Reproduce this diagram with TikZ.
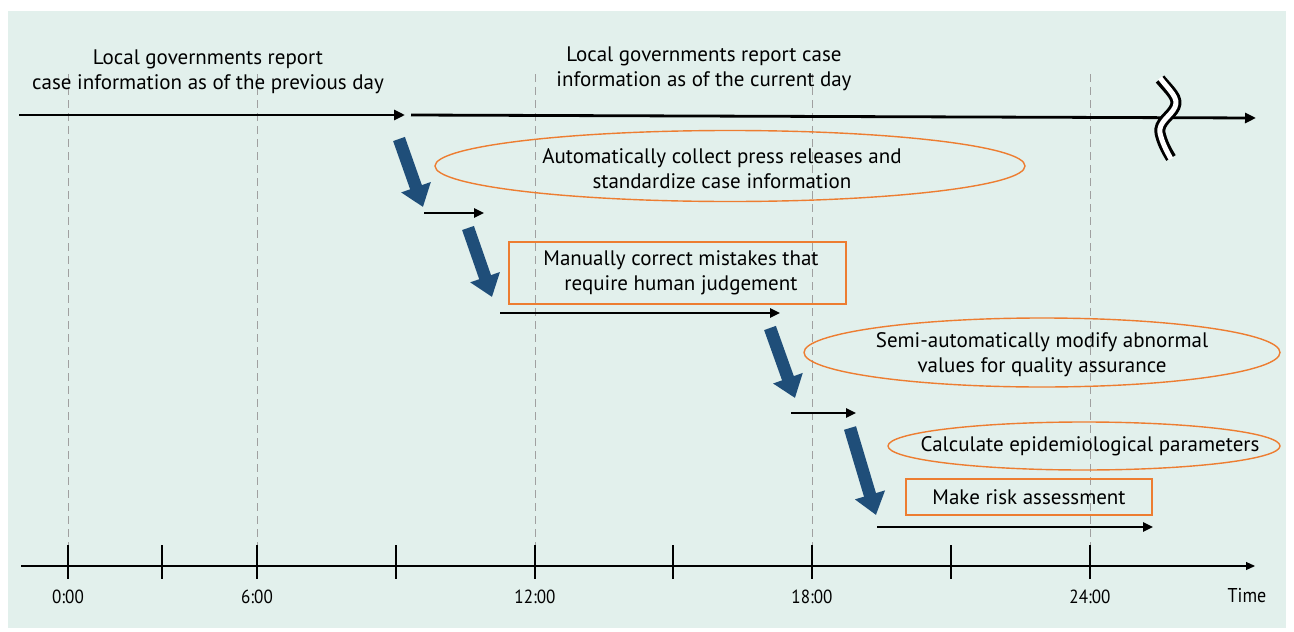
\documentclass[tikz,border=0pt]{standalone}
\usepackage{fontspec}
\usepackage{graphicx}
\setmainfont{PT Sans}
\usetikzlibrary{arrows.meta,shapes.geometric}
\definecolor{bgmint}{RGB}{226,240,236}
\definecolor{fatblue}{RGB}{31,78,121}
\definecolor{orng}{RGB}{237,125,49}
\definecolor{dashgray}{RGB}{160,160,160}
\newcommand{\narrowtxt}[1]{\scalebox{0.9}[1]{#1}}
\tikzset{
  txt/.style={font=\fontsize{21}{25}\selectfont, align=center, inner sep=0pt},
  axlbl/.style={font=\fontsize{19}{20}\selectfont, inner sep=0pt},
  fatarrow/.style={draw=fatblue, line width=12.5pt, -{Triangle[width=30pt,length=21pt]}, fatblue},
  steparrow/.style={draw=black, line width=2.4pt, -{Triangle[width=9pt,length=10pt]}},
  toparrow/.style={draw=black, line width=2.8pt, -{Triangle[width=10pt,length=11pt]}},
  guide/.style={draw=dashgray, line width=1pt, dash pattern=on 8pt off 5pt},
  oval/.style={draw=orng, line width=1.4pt, ellipse, inner sep=0pt},
  obox/.style={draw=orng, line width=1.4pt, rectangle, inner sep=0pt},
}
\begin{document}
\begin{tikzpicture}[x=1pt,y=-1pt]
\useasboundingbox (0,0) rectangle (1294,632);
\fill[white] (0,0) rectangle (1294,632);
\fill[bgmint] (8,11) rectangle (1286,628);
% dashed guides
\foreach \x in {68,257,535,812,1090}
  \draw[guide] (\x,74) -- (\x,545);
% time axis
\coordinate (ax0) at (21,566);
\coordinate (ax1) at (1255,566);
\draw[line width=1.1pt, -{Triangle[width=8pt,length=9pt]}] (ax0) -- (ax1);
\foreach \x in {68,162,257,396,535,673,812,951,1090}
  \draw[line width=1.1pt] (\x,545) -- (\x,579);
\node[axlbl] (t0) at (68,597) {\narrowtxt{0:00}};
\node[axlbl] (t6) at (257,597) {\narrowtxt{6:00}};
\node[axlbl] (t12) at (535,597) {\narrowtxt{12:00}};
\node[axlbl] (t18) at (812,597) {\narrowtxt{18:00}};
\node[axlbl] (t24) at (1090,597) {\narrowtxt{24:00}};
\node[font=\fontsize{20}{22}\selectfont, inner sep=0pt] (tm) at (1247,596) {\narrowtxt{Time}};
% top texts
\node[txt] (prev) at (208,72) {Local governments report\\case information as of the previous day};
\node[txt] (curr) at (704,69) {Local governments report case\\information as of the current day};
% top arrows
\coordinate (a0) at (19,115);
\coordinate (a1) at (405,115);
\coordinate (b0) at (411,115);
\coordinate (b1) at (1256,118);
\draw[toparrow] (a0) -- (a1);
\draw[toparrow] (b0) -- (b1);
% break mark
\draw[black, line width=11pt] (1160,79) .. controls (1170,91) and (1179,98) .. (1175,107) .. controls (1171,116) and (1158,122) .. (1160,133) .. controls (1162,142) and (1166,150) .. (1171,158);
\draw[white, line width=5pt] (1160,78) .. controls (1170,91) and (1179,98) .. (1175,107) .. controls (1171,116) and (1158,122) .. (1160,133) .. controls (1162,142) and (1166,150) .. (1171,159);
% process shapes
\node[oval, minimum width=590pt, minimum height=71pt] (s1) at (730,166) {};
\node[txt] (s1t) at (722,169) {Automatically collect press releases and\\standardize case information};
\node[obox, minimum width=337pt, minimum height=62pt] (s2) at (677.5,273) {};
\node[txt] (s2t) at (681,273) {Manually correct mistakes that\\require human judgement};
\node[oval, minimum width=476pt, minimum height=69pt] (s3) at (1042,352.5) {};
\node[txt] (s3t) at (1042,355) {Semi-automatically modify abnormal\\values for quality assurance};
\node[oval, minimum width=392pt, minimum height=48pt] (s4) at (1084,446) {};
\node[txt] (s4t) at (1090,446) {Calculate epidemiological parameters};
\node[obox, minimum width=246pt, minimum height=36pt] (s5) at (1029,497) {};
\node[txt] (s5t) at (1029,497) {Make risk assessment};
% fat blue arrows
\coordinate (f1a) at (399,139);
\coordinate (f1b) at (423,207);
\coordinate (f2a) at (468,228);
\coordinate (f2b) at (492,297);
\coordinate (f3a) at (770,328);
\coordinate (f3b) at (795,398);
\coordinate (f4a) at (850,428);
\coordinate (f4b) at (876,515);
\draw[fatarrow] (f1a) -- (f1b);
\draw[fatarrow] (f2a) -- (f2b);
\draw[fatarrow] (f3a) -- (f3b);
\draw[fatarrow] (f4a) -- (f4b);
% step arrows
\coordinate (p1a) at (424,213);
\coordinate (p1b) at (484,213);
\coordinate (p2a) at (500,313);
\coordinate (p2b) at (780,313);
\coordinate (p3a) at (791,413);
\coordinate (p3b) at (856,413);
\coordinate (p4a) at (877,527);
\coordinate (p4b) at (1153,527);
\draw[steparrow] (p1a) -- (p1b);
\draw[steparrow] (p2a) -- (p2b);
\draw[steparrow] (p3a) -- (p3b);
\draw[steparrow] (p4a) -- (p4b);
\end{tikzpicture}
\end{document}
